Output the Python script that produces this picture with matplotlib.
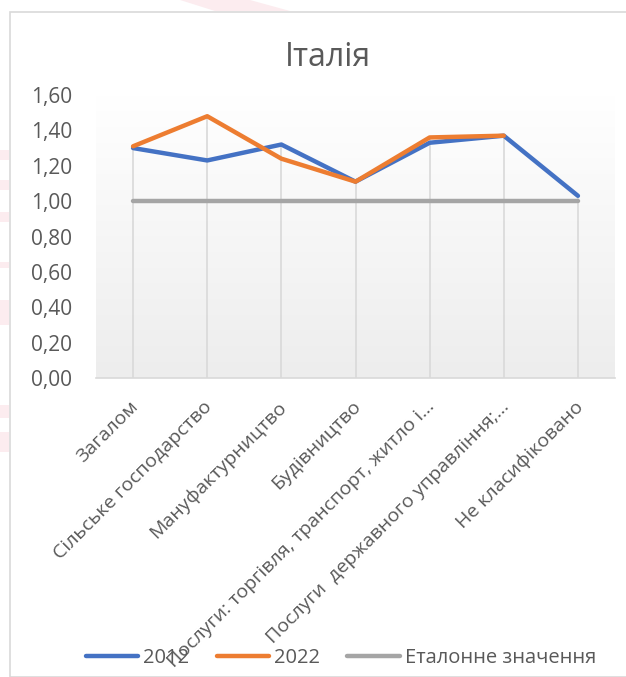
import matplotlib.pyplot as plt
import numpy as np
from matplotlib.patches import Rectangle, Polygon
from matplotlib.transforms import ScaledTranslation

plt.rcParams['font.family'] = ['Open Sans', 'DejaVu Sans']

categories = [
    "Загалом",
    "Сільське господарство",
    "Мануфактурництво",
    "Будівництво",
    "Послуги: торгівля, транспорт, житло і...",
    "Послуги  державного управління;...",
    "Не класифіковано",
]
values_2012 = [1.30, 1.23, 1.32, 1.11, 1.33, 1.37, 1.03]
values_2022 = [1.31, 1.48, 1.24, 1.11, 1.36, 1.37, np.nan]
reference = [1.00, 1.00, 1.00, 1.00, 1.00, 1.00, 1.00]

text_color = "#595959"
W, H = 626, 677

fig = plt.figure(figsize=(W / 100, H / 100), dpi=100)
fig.patch.set_facecolor("white")

# faint watermark bits behind the chart (outside the chart border)
pink = "#fcecef"
for y0, y1 in [(150, 160), (180, 190), (212, 222), (262, 268), (300, 325), (405, 418), (432, 452)]:
    fig.patches.append(Rectangle((0, 1 - y1 / H), 9 / W, (y1 - y0) / H,
                                 transform=fig.transFigure, color=pink, lw=0, zorder=-1))
fig.patches.append(Polygon([(180 / W, 1), (250 / W, 1), (290 / W, 1 - 11 / H), (215 / W, 1 - 11 / H)],
                           closed=True, transform=fig.transFigure, color=pink, lw=0, zorder=-1))

# chart area border
fig.patches.append(Rectangle((10 / W, 0), 1, 1 - 12 / H, transform=fig.transFigure,
                             fill=False, edgecolor="#d9d9d9", lw=1.2))

ax = fig.add_axes([96 / W, 1 - 378 / H, (615 - 96) / W, (378 - 95) / H])
ax.set_facecolor("white")

# plot area gradient
grad = np.linspace(1, 0, 256).reshape(-1, 1)
ax.imshow(grad, extent=[0, 1, 0, 1], transform=ax.transAxes, aspect="auto",
          cmap=plt.matplotlib.colors.LinearSegmentedColormap.from_list("g", ["#ededed", "#ffffff"]),
          zorder=0)

x = np.arange(len(categories))
tops = np.nanmax(np.vstack([values_2012, values_2022, reference]), axis=0)
ax.vlines(x, 0, tops, color="#d9d9d9", lw=1.2, zorder=1)

ax.plot(x, reference, color="#a5a5a5", lw=3.2, label="Еталонне значення", zorder=2,
        solid_capstyle="round")
ax.plot(x, values_2012, color="#4472c4", lw=3.2, label="2012", zorder=3,
        solid_capstyle="round")
ax.plot(x, values_2022, color="#ed7d31", lw=3.2, label="2022", zorder=4,
        solid_capstyle="round")

ax.set_xlim(-0.5, len(categories) - 0.5)
ax.set_ylim(0, 1.6)
ax.set_yticks(np.arange(0, 1.61, 0.2))
ax.set_yticklabels([f"{v:.2f}".replace(".", ",") for v in np.arange(0, 1.61, 0.2)])
ax.set_xticks(x)
ax.set_xticklabels(categories, rotation=45, ha="right", rotation_mode="anchor")
ax.tick_params(axis="y", length=0, pad=17, labelsize=15, labelcolor=text_color)
ax.tick_params(axis="x", length=0, pad=14, labelsize=14, labelcolor=text_color)
for lbl in ax.get_xticklabels():
    lbl.set_transform(lbl.get_transform() + ScaledTranslation(-4 / 100, 0, fig.dpi_scale_trans))
for s in ["left", "right", "top"]:
    ax.spines[s].set_visible(False)
ax.spines["bottom"].set_color("#d9d9d9")
ax.spines["bottom"].set_linewidth(1.2)

fig.text(328 / W, 1 - 57 / H, "Італія", ha="center", va="center",
         fontsize=23, color=text_color)

h, l = ax.get_legend_handles_labels()
order = [1, 2, 0]
fig.legend([h[i] for i in order], [l[i] for i in order], loc="center",
           bbox_to_anchor=(341 / W, 1 - 658 / H), ncol=3, frameon=False,
           fontsize=14.5, labelcolor=text_color, handlelength=2.6,
           handletextpad=0.25, columnspacing=1.35)

plt.savefig("out.png", dpi=100)
